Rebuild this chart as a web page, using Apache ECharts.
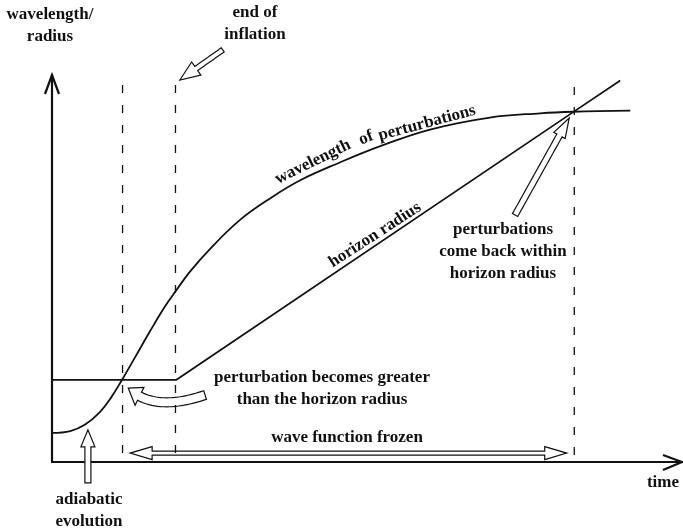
<!DOCTYPE html>
<html>
<head>
<meta charset="utf-8">
<script src="https://cdn.jsdelivr.net/npm/echarts@6/dist/echarts.min.js"></script>
<style>
  html, body { margin: 0; padding: 0; background: #fff; }
  #main { width: 683px; height: 531px; }
</style>
</head>
<body>
<div id="main"></div>
<script>
// wavelength of perturbations (time, size) in arbitrary units
const waveX = [0, 2.9, 5.2, 7.6, 9.4, 11.1, 13.2, 15.6, 17.9, 19.7, 21.9, 25.1, 29.8, 34.6, 39.4, 45.7, 52.1, 60.0, 69.5, 77.5, 82.7, 91.8];
const waveY = [7.5, 8.0, 9.6, 12.9, 16.7, 21.2, 27.1, 33.9, 40.1, 44.3, 49.2, 55.1, 62.5, 68.1, 72.8, 77.4, 81.6, 85.9, 89.0, 90.1, 90.5, 90.8];
// horizon radius
const horizonX = [0, 19.7, 82.9, 90.2];
const horizonY = [21.2, 21.2, 90.6, 98.6];
// dashed markers: crossing, end of inflation, re-entry
const markerX = [11.2, 19.6, 82.9];
const markerTop = [99.5, 100, 100];
const markerBottom = [2.3, 2.3, 1.8];
// hollow annotation arrows: [tailX, tailY, tipX, tipY]
const arrows = [
  { from: [27.1, 106.5], to: [20.3, 98.7], w: 2.5, hw: 8, hl: 20 },        // end of inflation
  { from: [73.5, 63.8], to: [82.1, 88.9], w: 3, hw: 6.5, hl: 20 },         // come back within
  { from: [5.7, -5.4], to: [5.7, 8.3], w: 3, hw: 7, hl: 17 },              // adiabatic evolution
  { from: [24.3, 17.3], ctrl: [16.1, 12.8], to: [12.1, 19.1], w: 4.5, hw: 10, hl: 14 }, // becomes greater
  { from: [12.4, 2.3], to: [81.7, 2.3], w: 2, hw: 6.5, hl: 22, both: true } // wave function frozen
];

const myChart = echarts.init(document.getElementById('main'));
const FONT = '"Liberation Serif", "DejaVu Serif", serif';

function arrowPolygon(pts, a) {
  // pts: centerline in pixels, tail -> tip
  const seg = [];
  let total = 0;
  for (let i = 1; i < pts.length; i++) {
    const dx = pts[i][0] - pts[i - 1][0], dy = pts[i][1] - pts[i - 1][1];
    const l = Math.hypot(dx, dy);
    seg.push(l);
    total += l;
  }
  function at(s) {
    let acc = 0;
    for (let i = 0; i < seg.length; i++) {
      if (s <= acc + seg[i] || i === seg.length - 1) {
        const t = seg[i] ? (s - acc) / seg[i] : 0;
        const p0 = pts[i], p1 = pts[i + 1];
        const tx = (p1[0] - p0[0]) / seg[i], ty = (p1[1] - p0[1]) / seg[i];
        return { p: [p0[0] + (p1[0] - p0[0]) * t, p0[1] + (p1[1] - p0[1]) * t], n: [-ty, tx] };
      }
      acc += seg[i];
    }
  }
  const s0 = a.both ? a.hl : 0, s1 = total - a.hl;
  const left = [], right = [];
  const N = 24;
  for (let k = 0; k <= N; k++) {
    const q = at(s0 + (s1 - s0) * k / N);
    left.push([q.p[0] + q.n[0] * a.w, q.p[1] + q.n[1] * a.w]);
    right.push([q.p[0] - q.n[0] * a.w, q.p[1] - q.n[1] * a.w]);
  }
  const e = at(s1);
  const poly = left.slice();
  poly.push([e.p[0] + e.n[0] * a.hw, e.p[1] + e.n[1] * a.hw]);
  poly.push(pts[pts.length - 1]);
  poly.push([e.p[0] - e.n[0] * a.hw, e.p[1] - e.n[1] * a.hw]);
  for (let k = right.length - 1; k >= 0; k--) poly.push(right[k]);
  if (a.both) {
    const b = at(s0);
    poly.push([b.p[0] - b.n[0] * a.hw, b.p[1] - b.n[1] * a.hw]);
    poly.push(pts[0]);
    poly.push([b.p[0] + b.n[0] * a.hw, b.p[1] + b.n[1] * a.hw]);
  }
  return poly;
}

function renderArrow(params, api) {
  const a = arrows[params.dataIndex];
  const p0 = api.coord(a.from), p2 = api.coord(a.to);
  let pts = [p0, p2];
  if (a.ctrl) {
    const c = api.coord(a.ctrl);
    pts = [];
    for (let k = 0; k <= 30; k++) {
      const t = k / 30;
      pts.push([
        (1 - t) * (1 - t) * p0[0] + 2 * (1 - t) * t * c[0] + t * t * p2[0],
        (1 - t) * (1 - t) * p0[1] + 2 * (1 - t) * t * c[1] + t * t * p2[1]
      ]);
    }
  }
  return {
    type: 'polygon',
    shape: { points: arrowPolygon(pts, a) },
    style: { fill: '#fff', stroke: '#111', lineWidth: 1.2, lineJoin: 'miter' }
  };
}

function renderAxisHead(params, api) {
  const yTop = api.coord([0, 100]);
  const xEnd = api.coord([100, 0]);
  const pts = params.dataIndex === 0
    ? [[yTop[0] - 7, yTop[1] + 19], yTop, [yTop[0] + 7, yTop[1] + 19]]
    : [[xEnd[0] - 19, xEnd[1] - 7], xEnd, [xEnd[0] - 19, xEnd[1] + 8]];
  return {
    type: 'polyline',
    shape: { points: pts },
    style: { stroke: '#111', lineWidth: 2.2, fill: null }
  };
}

const dashedSeries = markerX.map(function (x, i) {
  return {
    type: 'line',
    data: [[x, markerBottom[i]], [x, markerTop[i]]],
    symbol: 'none',
    silent: true,
    lineStyle: { color: '#111', width: 1.3, type: [8, 12] }
  };
});

function txt(text, x, y, rot) {
  return {
    type: 'text',
    x: x, y: y,
    rotation: rot ? rot * Math.PI / 180 : 0,
    style: {
      text: text,
      x: 0, y: 0,
      fill: '#111',
      font: 'bold 17px ' + FONT,
      align: 'center',
      verticalAlign: 'middle',
      lineHeight: 22
    }
  };
}

myChart.setOption({
  animation: false,
  grid: { left: 52, right: 1, top: 75, bottom: 69 },
  xAxis: {
    type: 'value', min: 0, max: 100,
    axisLine: { lineStyle: { color: '#111', width: 2.2 } },
    axisTick: { show: false }, axisLabel: { show: false }, splitLine: { show: false }
  },
  yAxis: {
    type: 'value', min: 0, max: 100,
    axisLine: { show: true, lineStyle: { color: '#111', width: 2.2 } },
    axisTick: { show: false }, axisLabel: { show: false }, splitLine: { show: false }
  },
  series: dashedSeries.concat([
    {
      name: 'wavelength of perturbations',
      type: 'line',
      data: waveX.map(function (x, i) { return [x, waveY[i]]; }),
      smooth: 0.4,
      symbol: 'none',
      lineStyle: { color: '#111', width: 1.8 }
    },
    {
      name: 'horizon radius',
      type: 'line',
      data: horizonX.map(function (x, i) { return [x, horizonY[i]]; }),
      symbol: 'none',
      lineStyle: { color: '#111', width: 1.8 }
    },
    {
      type: 'custom',
      renderItem: renderArrow,
      data: arrows.map(function (a) { return [a.to[0], a.to[1]]; }),
      clip: false,
      silent: true
    },
    {
      type: 'custom',
      renderItem: renderAxisHead,
      data: [[0, 100], [100, 0]],
      clip: false,
      silent: true
    }
  ]),
  graphic: [
    txt('wavelength/\nradius', 50, 26),
    txt('end of\ninflation', 255, 24),
    txt('wavelength', 313, 162, 26),
    txt('of', 366, 138, 21),
    txt('perturbations', 427, 123, 15),
    txt('horizon radius', 375, 235, 33),
    txt('perturbations\ncome back within\nhorizon radius', 503, 252),
    txt('perturbation becomes greater\nthan the horizon radius', 322, 389),
    txt('wave function frozen', 347, 438),
    txt('adiabatic\nevolution', 89, 511),
    txt('time', 663, 483)
  ]
});
</script>
</body>
</html>
